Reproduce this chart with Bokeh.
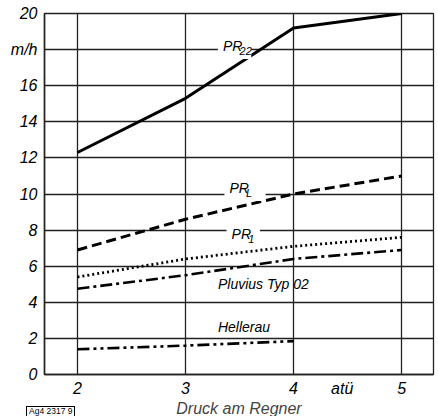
from bokeh.plotting import figure
from bokeh.models import FixedTicker, Label, Range1d, Div
from bokeh.layouts import column
from bokeh.embed import file_html
from bokeh.resources import INLINE

pressure = [2, 3, 4, 5]
pr22 = [12.3, 15.3, 19.2, 20.0]
pr_l = [6.9, 8.6, 10.0, 11.0]
pr_1 = [5.4, 6.4, 7.1, 7.6]
pluvius = [4.75, 5.5, 6.4, 6.9]
pressure_hellerau = [2, 3, 4]
hellerau = [1.4, 1.6, 1.85]

x_ticks = [2, 3, 4, 4.45, 5]
x_tick_labels = {2: "2", 3: "3", 4: "4", 4.45: "atü", 5: "5"}
y_ticks = [0, 2, 4, 6, 8, 10, 12, 14, 16, 18, 20]
y_tick_labels = {18: "m/h"}

FONT = "Liberation Sans"

p = figure(width=437, height=414, output_backend="svg", toolbar_location=None,
           x_range=Range1d(1.695, 5.295), y_range=Range1d(0, 20),
           min_border_left=44, min_border_top=13, min_border_right=4, min_border_bottom=40)
p.frame_width = 389
p.frame_height = 361

p.outline_line_color = "#222222"
p.outline_line_width = 1.3
p.background_fill_color = "white"

p.xaxis.ticker = FixedTicker(ticks=x_ticks)
p.xaxis.major_label_overrides = x_tick_labels
p.yaxis.ticker = FixedTicker(ticks=y_ticks)
p.yaxis.major_label_overrides = y_tick_labels
p.xgrid.ticker = FixedTicker(ticks=pressure)
p.ygrid.ticker = FixedTicker(ticks=y_ticks)
for g in (p.xgrid, p.ygrid):
    g.grid_line_color = "#222222"
    g.grid_line_width = 1.3
    g.grid_line_alpha = 1.0

for ax in (p.xaxis, p.yaxis):
    ax.axis_line_color = "#222222"
    ax.axis_line_width = 1.5
    ax.major_tick_line_color = None
    ax.minor_tick_line_color = None
    ax.major_tick_out = 0
    ax.major_tick_in = 0
    ax.major_label_text_font = FONT
    ax.major_label_text_font_style = "italic"
    ax.major_label_text_font_size = "16px"
    ax.major_label_text_color = "black"
p.xaxis.major_label_standoff = 5
p.yaxis.major_label_standoff = 7
p.xaxis.axis_label = "Druck am Regner"
p.xaxis.axis_label_text_font = FONT
p.xaxis.axis_label_text_font_style = "italic"
p.xaxis.axis_label_text_font_size = "16px"
p.xaxis.axis_label_standoff = 0

p.line(pressure, pr22, line_color="black", line_width=3)
p.line(pressure, pr_l, line_color="black", line_width=3, line_dash="10 5")
p.line(pressure, pr_1, line_color="black", line_width=2.8, line_dash="2 3")
p.line(pressure, pluvius, line_color="black", line_width=2.6, line_dash="12 4 3 4")
p.line(pressure_hellerau, hellerau, line_color="black", line_width=2.6, line_dash="12 4 3 4 3 4")


def lab(x, y, text, size="14px", bg=True, pad=0):
    kw = dict(x=x, y=y, text=text, text_font=FONT, text_font_style="italic",
              text_font_size=size, text_color="black", text_baseline="middle",
              text_align="left")
    if bg:
        kw["background_fill_color"] = "white"
        kw["padding"] = pad
    p.add_layout(Label(**kw))


lab(3.30, 18.2, "PR ", pad=5)
lab(3.50, 17.95, "22", size="11px", bg=False)
lab(3.36, 10.33, "PR   ", pad=5)
lab(3.56, 10.05, "L", size="11px", bg=False)
lab(3.38, 7.8, "PR ", pad=5)
lab(3.58, 7.52, "1", size="11px", bg=False)
lab(3.30, 5.03, "Pluvius Typ 02", bg=False)
lab(3.30, 2.65, "Hellerau", bg=False)

tag = Div(text="Ag4 2317 9",
          styles={"position": "absolute", "left": "21px", "top": "401px",
                  "border": "1px solid black", "font-family": FONT,
                  "font-size": "8.5px", "line-height": "9px", "padding": "0 2px",
                  "background": "white"})

layout = column(p, tag)
open("out.html", "w").write(file_html(layout, INLINE))
